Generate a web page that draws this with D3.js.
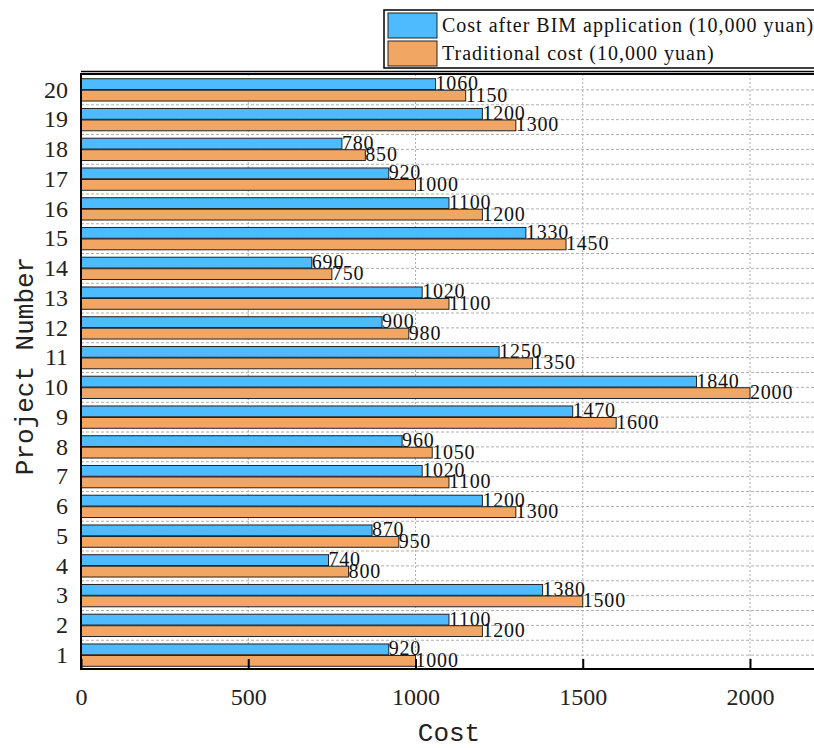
<!DOCTYPE html>
<html>
<head>
<meta charset="utf-8">
<script src="https://cdn.jsdelivr.net/npm/d3@7"></script>
<style>
  body { margin: 0; background: #fff; }
  svg { display: block; }
</style>
</head>
<body>
<div id="chart"></div>
<script>
// data ---------------------------------------------------------------
const projects = [20, 19, 18, 17, 16, 15, 14, 13, 12, 11, 10, 9, 8, 7, 6, 5, 4, 3, 2, 1];
const bimCost = [1060, 1200, 780, 920, 1100, 1330, 690, 1020, 900, 1250, 1840, 1470, 960, 1020, 1200, 870, 740, 1380, 1100, 920];
const tradCost = [1150, 1300, 850, 1000, 1200, 1450, 750, 1100, 980, 1350, 2000, 1600, 1050, 1100, 1300, 950, 800, 1500, 1200, 1000];
const xTicks = [0, 500, 1000, 1500, 2000];
const seriesNames = ['Cost after BIM application (10,000 yuan)', 'Traditional cost (10,000 yuan)'];
const colors = ['#4dbbfd', '#f2a664'];

// size ---------------------------------------------------------------
const width = 814, height = 748;
const margin = { top: 74, bottom: 79, left: 81 };
const serif = '"Liberation Serif", "Times New Roman", serif';
const mono = '"Liberation Mono", "Courier New", monospace';

const svg = d3.select('#chart').append('svg')
  .attr('width', width)
  .attr('height', height);

// scales -------------------------------------------------------------
const xScale = d3.scaleLinear()
  .domain([0, 2200])
  .range([margin.left, margin.left + 2200 * 0.3345]);
const yScale = d3.scaleBand()
  .domain(projects)
  .range([margin.top + 1, height - margin.bottom + 1])
  .paddingInner(0.25)
  .paddingOuter(0.125);
const sub = d3.scaleBand()
  .domain([0, 1])
  .range([0, yScale.bandwidth()])
  .paddingInner(0.06);

const plotRight = xScale.range()[1];
const plotBottom = height - margin.bottom;

// grid ---------------------------------------------------------------
const grid = svg.append('g');
grid.selectAll('.vgrid')
  .data(xTicks.slice(1))
  .enter().append('line')
  .attr('x1', d => xScale(d)).attr('x2', d => xScale(d))
  .attr('y1', margin.top).attr('y2', plotBottom)
  .attr('stroke', '#b0b0b0').attr('stroke-width', 1)
  .attr('stroke-dasharray', '2,2');
// major at category centres, minor between them
const centers = projects.map(p => yScale(p) + yScale.bandwidth() / 2);
const mids = centers.slice(0, -1).map((c, i) => (c + centers[i + 1]) / 2);
grid.selectAll('.hgrid')
  .data(centers.concat(mids))
  .enter().append('line')
  .attr('x1', margin.left).attr('x2', plotRight)
  .attr('y1', d => d).attr('y2', d => d)
  .attr('stroke', '#b0b0b0').attr('stroke-width', 1)
  .attr('stroke-dasharray', '3,2');

// bars ---------------------------------------------------------------
const series = [bimCost, tradCost];
series.forEach((vals, s) => {
  const g = svg.append('g');
  g.selectAll('rect')
    .data(vals)
    .enter().append('rect')
    .attr('x', xScale(0))
    .attr('y', (d, i) => yScale(projects[i]) + sub(s))
    .attr('width', d => xScale(d) - xScale(0))
    .attr('height', sub.bandwidth())
    .attr('fill', colors[s])
    .attr('stroke', '#222')
    .attr('stroke-width', 1);
  g.selectAll('text')
    .data(vals)
    .enter().append('text')
    .attr('x', d => xScale(d))
    .attr('y', (d, i) => yScale(projects[i]) + sub(s) + sub.bandwidth() / 2 + 6)
    .attr('font-family', serif)
    .attr('font-size', '20px')
    .attr('letter-spacing', '0.8px')
    .attr('fill', '#111')
    .text(d => d);
});

// axes ---------------------------------------------------------------
svg.append('g')
  .attr('transform', 'translate(0,' + plotBottom + ')')
  .call(d3.axisBottom(xScale).tickValues(xTicks).tickFormat(d3.format('d')).tickSize(-10).tickPadding(0))
  .call(g => g.select('.domain').remove())
  .call(g => g.selectAll('.tick line').attr('stroke', '#000').attr('stroke-width', 2))
  .selectAll('text')
  .attr('y', 36)
  .attr('dy', 0)
  .attr('font-family', serif)
  .attr('font-size', '24px')
  .attr('fill', '#222');

svg.append('g')
  .attr('transform', 'translate(' + margin.left + ',0)')
  .call(d3.axisLeft(yScale).tickSize(0).tickPadding(13))
  .call(g => g.select('.domain').remove())
  .selectAll('text')
  .attr('font-family', serif)
  .attr('font-size', '24px')
  .attr('fill', '#222');

// frame
svg.append('line')
  .attr('x1', margin.left).attr('x2', plotRight)
  .attr('y1', margin.top - 2.5).attr('y2', margin.top - 2.5)
  .attr('stroke', '#000').attr('stroke-width', 1.5);
svg.append('rect')
  .attr('x', margin.left).attr('y', margin.top)
  .attr('width', plotRight - margin.left)
  .attr('height', plotBottom - margin.top)
  .attr('fill', 'none')
  .attr('stroke', '#000').attr('stroke-width', 2);

// axis titles
svg.append('text')
  .attr('x', 449).attr('y', 741)
  .attr('text-anchor', 'middle')
  .attr('font-family', mono)
  .attr('font-size', '26px')
  .attr('fill', '#222')
  .text('Cost');
svg.append('text')
  .attr('transform', 'translate(33,366) rotate(-90)')
  .attr('text-anchor', 'middle')
  .attr('font-family', mono)
  .attr('font-size', '26px')
  .attr('fill', '#222')
  .text('Project Number');

// legend -------------------------------------------------------------
const legend = svg.append('g').attr('transform', 'translate(384,10)');
legend.append('rect')
  .attr('x', 0).attr('y', 0)
  .attr('width', 440).attr('height', 58)
  .attr('fill', '#fff')
  .attr('stroke', '#000').attr('stroke-width', 1.5);
seriesNames.forEach((name, i) => {
  legend.append('rect')
    .attr('x', 4).attr('y', 3 + i * 28)
    .attr('width', 49).attr('height', 25)
    .attr('fill', colors[i])
    .attr('stroke', '#222').attr('stroke-width', 1);
  legend.append('text')
    .attr('x', 58).attr('y', 22 + i * 28)
    .attr('font-family', serif)
    .attr('font-size', '20px')
    .attr('letter-spacing', '1px')
    .attr('fill', '#111')
    .text(name);
});
</script>
</body>
</html>
